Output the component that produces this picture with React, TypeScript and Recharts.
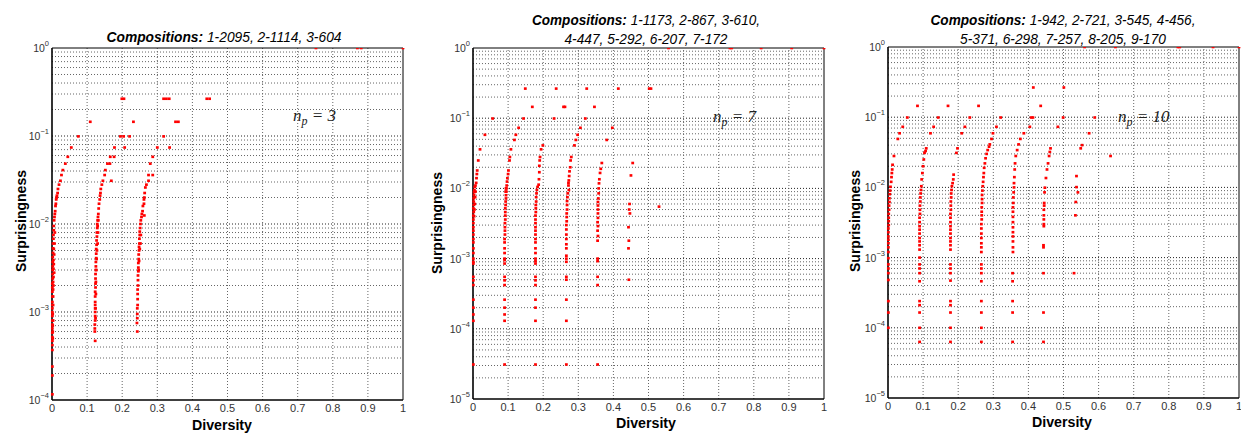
import React from 'react';
import { ScatterChart, Scatter, XAxis, YAxis, ReferenceLine } from 'recharts';

type P = [number, number];

// ---------- tick labels ----------
const xTicks = [0, 0.1, 0.2, 0.3, 0.4, 0.5, 0.6, 0.7, 0.8, 0.9, 1];
const xTickLabels = ['0', '0.1', '0.2', '0.3', '0.4', '0.5', '0.6', '0.7', '0.8', '0.9', '1'];
const yTicksP1 = [1e-4, 1e-3, 1e-2, 1e-1, 1];
const yTicksP23 = [1e-5, 1e-4, 1e-3, 1e-2, 1e-1, 1];
const yExpLabels: Record<number, string> = { 0: '0', [-1]: '−1', [-2]: '−2', [-3]: '−3', [-4]: '−4', [-5]: '−5' };

// ---------- titles ----------
const titleP1 = ['1-2095, 2-1114, 3-604'];
const titleP2 = ['1-1173, 2-867, 3-610,', '4-447, 5-292, 6-207, 7-172'];
const titleP3 = ['1-942, 2-721, 3-545, 4-456,', '5-371, 6-298, 7-257, 8-205, 9-170'];
const npLabels = ['3', '7', '10'];

// ---------- plot 1 (n_p = 3) ----------
const p1Upper: P[] = [
  [0.752, 1], [0.870, 1], [0.881, 1], [1, 1],
  [0.199, 0.265], [0.205, 0.265], [0.318, 0.265], [0.326, 0.265], [0.334, 0.265], [0.441, 0.265], [0.449, 0.265],
  [0.109, 0.145], [0.232, 0.145], [0.352, 0.145], [0.360, 0.145],
  [0.075, 0.099], [0.195, 0.099], [0.204, 0.099], [0.221, 0.099], [0.318, 0.099],
  [0.055, 0.074], [0.178, 0.074], [0.207, 0.074], [0.300, 0.074], [0.335, 0.074],
  [0.045, 0.058], [0.166, 0.058], [0.177, 0.058], [0.287, 0.058],
  [0.038, 0.0485], [0.158, 0.0485], [0.165, 0.0485], [0.280, 0.0485],
  [0.031, 0.041], [0.152, 0.041],
  [0.027, 0.036], [0.150, 0.036], [0.275, 0.036], [0.287, 0.036],
  [0.024, 0.031], [0.145, 0.031], [0.169, 0.031], [0.275, 0.031],
  [0.020, 0.028], [0.142, 0.028], [0.269, 0.028],
];
const p1Streak1: P[] = [
  [0.017, 0.025], [0.016, 0.0225], [0.014, 0.021], [0.013, 0.02], [0.012, 0.019], [0.011, 0.017],
  [0.010, 0.016], [0.009, 0.014], [0.008, 0.013], [0.007, 0.012], [0.006, 0.011], [0.005, 0.0095],
  [0.005, 0.0085], [0.004, 0.0075], [0.004, 0.0068], [0.003, 0.006], [0.003, 0.0053], [0.003, 0.0047],
  [0.002, 0.0042], [0.002, 0.0037], [0.002, 0.0033], [0.002, 0.003], [0.002, 0.0027], [0.002, 0.0024],
  [0.001, 0.0021], [0.001, 0.0019], [0.001, 0.0017], [0.001, 0.0015], [0.001, 0.0013], [0.001, 0.0012],
  [0.001, 0.0011], [0.001, 0.001], [0.001, 0.0009], [0.001, 0.0008], [0.001, 0.00072], [0.001, 0.00065],
  [0.001, 0.00058], [0.001, 0.00052], [0.001, 0.00047], [0.001, 0.00042], [0.001, 0.00037],
  [0.001, 0.00024], [0.001, 0.00019], [0.001, 0.000116],
  [0.006, 0.0045], [0.007, 0.006], [0.005, 0.0035], [0.008, 0.008], [0.004, 0.0025], [0.003, 0.0018], [0.006, 0.0028],
  [0.005, 0.0052], [0.004, 0.0039], [0.004, 0.0031], [0.003, 0.0022], [0.003, 0.0015], [0.004, 0.002],
  [0.003, 0.0012], [0.002, 0.00095], [0.003, 0.0008], [0.002, 0.0007], [0.002, 0.0006], [0.002, 0.0005],
];
const p1Streak2: P[] = [
  [0.139, 0.025], [0.138, 0.0225], [0.137, 0.021], [0.136, 0.019], [0.134, 0.017], [0.133, 0.015],
  [0.132, 0.013], [0.131, 0.012], [0.130, 0.011], [0.129, 0.01], [0.129, 0.009], [0.128, 0.008],
  [0.128, 0.0072], [0.127, 0.0065], [0.127, 0.0058], [0.126, 0.0052], [0.126, 0.0046], [0.126, 0.0041],
  [0.125, 0.0037], [0.125, 0.0033], [0.125, 0.003], [0.124, 0.0027], [0.124, 0.0024], [0.124, 0.0021],
  [0.124, 0.0019], [0.123, 0.0017], [0.123, 0.0015], [0.123, 0.0013], [0.123, 0.0012], [0.123, 0.0011],
  [0.123, 0.001], [0.123, 0.0009], [0.123, 0.0008], [0.122, 0.00072], [0.122, 0.00065], [0.122, 0.0006],
  [0.123, 0.00047], [0.130, 0.006], [0.131, 0.008], [0.127, 0.004], [0.126, 0.003], [0.128, 0.005],
  [0.125, 0.0022], [0.125, 0.0016], [0.124, 0.0011], [0.124, 0.00085], [0.130, 0.0095], [0.132, 0.011],
];
const p1Streak3: P[] = [
  [0.266, 0.026], [0.264, 0.0225], [0.263, 0.02], [0.262, 0.019], [0.262, 0.017], [0.259, 0.016],
  [0.258, 0.014], [0.256, 0.013], [0.255, 0.012], [0.263, 0.0125], [0.253, 0.011], [0.252, 0.01],
  [0.251, 0.009], [0.250, 0.0082], [0.250, 0.0075], [0.249, 0.0068], [0.249, 0.006], [0.248, 0.0055],
  [0.248, 0.005], [0.247, 0.0045], [0.247, 0.004], [0.246, 0.0036], [0.246, 0.0032], [0.246, 0.0029],
  [0.245, 0.0026], [0.245, 0.0023], [0.245, 0.002], [0.244, 0.0018], [0.244, 0.0016], [0.244, 0.0014],
  [0.244, 0.0012], [0.243, 0.0011], [0.243, 0.00095], [0.243, 0.00085], [0.242, 0.00075], [0.243, 0.0006],
  [0.252, 0.006], [0.253, 0.0075], [0.250, 0.0052], [0.248, 0.0038], [0.247, 0.003],
];

// ---------- plot 2 (n_p = 7) ----------
const p2Upper: P[] = [
  [0.557, 1], [0.732, 1], [0.737, 1], [0.821, 1], [0.908, 1], [1, 1],
  [0.149, 0.264], [0.237, 0.264], [0.324, 0.264], [0.414, 0.264], [0.502, 0.264], [0.507, 0.264],
  [0.169, 0.145], [0.258, 0.145], [0.262, 0.145], [0.346, 0.145],
  [0.056, 0.099], [0.144, 0.099], [0.231, 0.099], [0.320, 0.099],
  [0.130, 0.073], [0.306, 0.073], [0.397, 0.073],
  [0.034, 0.058], [0.122, 0.058], [0.298, 0.058],
  [0.118, 0.049], [0.293, 0.049], [0.381, 0.049],
  [0.199, 0.041], [0.289, 0.041],
  [0.020, 0.036], [0.108, 0.036], [0.194, 0.036],
  [0.105, 0.028], [0.191, 0.028], [0.280, 0.028],
  [0.015, 0.025], [0.104, 0.025], [0.278, 0.025], [0.190, 0.025],
  [0.367, 0.023], [0.455, 0.023],
  [0.530, 0.0055],
];
const p2StreakA: P[] = [
  [0.012, 0.018], [0.011, 0.016], [0.010, 0.014], [0.009, 0.012], [0.007, 0.011], [0.005, 0.0105],
  [0.004, 0.0095], [0.003, 0.0088], [0.003, 0.008], [0.002, 0.0072], [0.002, 0.0065], [0.002, 0.0058],
  [0.001, 0.0052], [0.002, 0.0046], [0.001, 0.0041], [0.001, 0.0036], [0.001, 0.0032], [0.001, 0.0028],
  [0.001, 0.0025], [0.001, 0.0022], [0.001, 0.0019], [0.001, 0.0017], [0.001, 0.0014], [0.001, 0.0012],
  [0.001, 0.001], [0.001, 0.0009], [0.001, 0.00085], [0.001, 0.00055], [0.001, 0.00049], [0.001, 0.00042],
  [0.001, 0.00026], [0.001, 0.0002], [0.001, 0.00016], [0.001, 0.00013], [0.001, 0.000031],
  [0.006, 0.0075], [0.007, 0.009], [0.005, 0.006], [0.004, 0.005], [0.003, 0.004],
];
const p2StreakB: P[] = [
  [0.101, 0.018], [0.100, 0.016], [0.098, 0.014], [0.097, 0.0125], [0.096, 0.011], [0.095, 0.01],
  [0.095, 0.009], [0.094, 0.008], [0.094, 0.0072], [0.093, 0.0065], [0.093, 0.0058], [0.092, 0.0052],
  [0.092, 0.0046], [0.092, 0.0041], [0.092, 0.0036], [0.091, 0.0032], [0.091, 0.0028], [0.091, 0.0025],
  [0.091, 0.0022], [0.090, 0.0019], [0.090, 0.0017], [0.090, 0.0014], [0.090, 0.0012], [0.090, 0.001],
  [0.090, 0.00095], [0.090, 0.00085], [0.090, 0.00055], [0.090, 0.00049], [0.090, 0.00042],
  [0.090, 0.00026], [0.090, 0.0002], [0.090, 0.00016], [0.090, 0.00013], [0.090, 0.000031],
  [0.093, 0.009], [0.094, 0.01],
];
const p2StreakC: P[] = [
  [0.189, 0.021], [0.189, 0.017], [0.188, 0.0135], [0.187, 0.0113], [0.184, 0.0105], [0.182, 0.0095],
  [0.181, 0.0085], [0.180, 0.0075], [0.180, 0.0065], [0.179, 0.0058], [0.179, 0.0052], [0.179, 0.0046],
  [0.178, 0.0041], [0.178, 0.0036], [0.178, 0.0032], [0.178, 0.0028], [0.178, 0.0025], [0.178, 0.0022],
  [0.178, 0.0019], [0.178, 0.0017], [0.178, 0.0014], [0.178, 0.0012], [0.178, 0.001], [0.178, 0.00092],
  [0.178, 0.00085], [0.178, 0.00055], [0.178, 0.00049], [0.178, 0.00042], [0.178, 0.00026],
  [0.178, 0.0002], [0.178, 0.00013], [0.178, 0.000031],
];
const p2StreakD: P[] = [
  [0.277, 0.02], [0.275, 0.0175], [0.274, 0.015], [0.273, 0.013], [0.272, 0.012], [0.272, 0.011],
  [0.273, 0.0095], [0.270, 0.0085], [0.269, 0.0075], [0.268, 0.0066], [0.268, 0.0058], [0.268, 0.005],
  [0.267, 0.0044], [0.267, 0.0039], [0.267, 0.0034], [0.266, 0.003], [0.266, 0.0026], [0.266, 0.0022],
  [0.266, 0.0019], [0.266, 0.0016], [0.266, 0.0014], [0.266, 0.0011], [0.266, 0.001], [0.266, 0.0009],
  [0.266, 0.00055], [0.266, 0.0005], [0.266, 0.00026], [0.266, 0.00013], [0.266, 0.000031],
];
const p2StreakE: P[] = [
  [0.364, 0.019], [0.362, 0.0166], [0.360, 0.0135], [0.359, 0.0118], [0.358, 0.01], [0.358, 0.0085],
  [0.357, 0.0072], [0.356, 0.0064], [0.356, 0.0057], [0.356, 0.005], [0.356, 0.0044], [0.356, 0.0038],
  [0.355, 0.0033], [0.356, 0.0029], [0.355, 0.0025], [0.356, 0.0021], [0.355, 0.0018], [0.355, 0.001],
  [0.355, 0.00092], [0.355, 0.00055], [0.355, 0.00042], [0.355, 0.000031],
];
const p2StreakF: P[] = [
  [0.450, 0.0153], [0.446, 0.006], [0.445, 0.005], [0.447, 0.0044], [0.443, 0.0028], [0.444, 0.0018],
  [0.443, 0.0014], [0.444, 0.0005],
];

// ---------- plot 3 (n_p = 10) ----------
const p3Upper: P[] = [
  [0.560, 1], [0.648, 1], [0.826, 1], [0.831, 1], [0.926, 1], [1, 1],
  [0.414, 0.265], [0.501, 0.265],
  [0.084, 0.145], [0.171, 0.145], [0.258, 0.145], [0.435, 0.145],
  [0.055, 0.099], [0.143, 0.099], [0.233, 0.099], [0.321, 0.099], [0.408, 0.099], [0.413, 0.099], [0.499, 0.099], [0.589, 0.099],
  [0.042, 0.073], [0.130, 0.073], [0.219, 0.073], [0.309, 0.073], [0.404, 0.073], [0.484, 0.073],
  [0.033, 0.059], [0.121, 0.059], [0.210, 0.059], [0.387, 0.059], [0.573, 0.059],
  [0.028, 0.049],
  [0.553, 0.04], [0.549, 0.036],
  [0.017, 0.028], [0.634, 0.028],
];
const p3Streak1: P[] = [
  [0.013, 0.021], [0.012, 0.018], [0.011, 0.016], [0.010, 0.014], [0.009, 0.012], [0.007, 0.0102],
  [0.006, 0.009], [0.005, 0.008], [0.004, 0.007], [0.004, 0.0062], [0.003, 0.0055], [0.003, 0.0048],
  [0.002, 0.0042], [0.002, 0.0037], [0.002, 0.0033], [0.002, 0.0029], [0.001, 0.0026], [0.001, 0.0023],
  [0.001, 0.002], [0.001, 0.0018], [0.001, 0.0016], [0.001, 0.0014], [0.001, 0.0012], [0.001, 0.00098],
  [0.001, 0.0008], [0.001, 0.0007], [0.001, 0.0006], [0.001, 0.00048], [0.001, 0.00024], [0.001, 0.000165],
  [0.001, 0.0001],
];
const p3Streak2: P[] = [
  [0.109, 0.036], [0.107, 0.033], [0.104, 0.031], [0.102, 0.025], [0.100, 0.02], [0.098, 0.016],
  [0.096, 0.013], [0.095, 0.0104], [0.094, 0.0092], [0.093, 0.0082], [0.092, 0.0072], [0.092, 0.0063],
  [0.091, 0.0055], [0.091, 0.0048], [0.091, 0.0042], [0.090, 0.0037], [0.090, 0.0032], [0.090, 0.0028],
  [0.090, 0.0025], [0.090, 0.0022], [0.090, 0.0019], [0.090, 0.0017], [0.090, 0.0015], [0.090, 0.0013],
  [0.090, 0.001], [0.090, 0.0008], [0.090, 0.0007], [0.090, 0.0006], [0.090, 0.00046], [0.090, 0.00024],
  [0.090, 0.00021], [0.090, 0.000165], [0.090, 0.0001], [0.090, 0.000063],
];
const p3Streak3: P[] = [
  [0.198, 0.036], [0.195, 0.031],
  [0.187, 0.0152], [0.186, 0.013], [0.184, 0.0115], [0.182, 0.0104], [0.181, 0.0092], [0.180, 0.0082],
  [0.180, 0.0072], [0.179, 0.0063], [0.179, 0.0055], [0.179, 0.0048], [0.178, 0.0042], [0.178, 0.0037],
  [0.178, 0.0032], [0.178, 0.0028], [0.178, 0.0025], [0.178, 0.0022], [0.178, 0.0019], [0.178, 0.0017],
  [0.178, 0.0015], [0.178, 0.0013], [0.178, 0.0008], [0.178, 0.0007], [0.178, 0.0006], [0.178, 0.00047],
  [0.178, 0.00024], [0.178, 0.00021], [0.178, 0.000165], [0.178, 0.0001], [0.178, 0.000063],
];
const p3Streak4: P[] = [
  [0.299, 0.059], [0.295, 0.049], [0.290, 0.041], [0.288, 0.038], [0.284, 0.034], [0.281, 0.03],
  [0.278, 0.026], [0.276, 0.022], [0.274, 0.019], [0.273, 0.016], [0.272, 0.014], [0.271, 0.012],
  [0.270, 0.0104], [0.269, 0.009], [0.268, 0.0078], [0.268, 0.0068], [0.268, 0.006], [0.267, 0.0052],
  [0.267, 0.0045], [0.267, 0.004], [0.267, 0.0035], [0.266, 0.003], [0.266, 0.0026], [0.266, 0.0022],
  [0.266, 0.0019], [0.266, 0.0016], [0.266, 0.0014], [0.266, 0.0012], [0.266, 0.0008], [0.266, 0.0007],
  [0.266, 0.0006], [0.266, 0.00046], [0.266, 0.00024], [0.266, 0.000165], [0.266, 0.0001], [0.266, 0.000063],
];
const p3Streak5: P[] = [
  [0.377, 0.049], [0.372, 0.041], [0.368, 0.034], [0.364, 0.028], [0.362, 0.022], [0.361, 0.018],
  [0.360, 0.014], [0.359, 0.0115], [0.359, 0.01], [0.358, 0.0085], [0.357, 0.0072], [0.357, 0.006],
  [0.356, 0.0052], [0.356, 0.0045], [0.356, 0.0038], [0.356, 0.0032], [0.356, 0.0027], [0.356, 0.0023],
  [0.356, 0.002], [0.356, 0.0017], [0.356, 0.0014], [0.356, 0.0012], [0.355, 0.0006], [0.355, 0.00046],
  [0.355, 0.00024], [0.355, 0.000165], [0.355, 0.000063],
];
const p3Streak6: P[] = [
  [0.463, 0.036], [0.461, 0.032], [0.459, 0.028], [0.456, 0.022], [0.453, 0.018], [0.450, 0.0136],
  [0.447, 0.0099], [0.446, 0.0085], [0.445, 0.006], [0.445, 0.0055], [0.444, 0.0048], [0.444, 0.004],
  [0.444, 0.0035], [0.444, 0.003], [0.444, 0.0028], [0.443, 0.0015], [0.443, 0.0014], [0.443, 0.0006],
  [0.443, 0.000165], [0.443, 0.000063],
];
const p3Streak7: P[] = [
  [0.537, 0.0145], [0.537, 0.0101], [0.541, 0.0085], [0.535, 0.0062], [0.534, 0.004], [0.530, 0.0006],
];

const toPts = (...lists: P[][]) => lists.flat().map(([x, y]) => ({ x, y }));

const data1 = toPts(p1Upper, p1Streak1, p1Streak2, p1Streak3);
const data2 = toPts(p2Upper, p2StreakA, p2StreakB, p2StreakC, p2StreakD, p2StreakE, p2StreakF);
const data3 = toPts(p3Upper, p3Streak1, p3Streak2, p3Streak3, p3Streak4, p3Streak5, p3Streak6, p3Streak7);

// ---------- styling helpers ----------
const SANS = '"Liberation Sans", Arial, Helvetica, sans-serif';
const SERIF = '"Liberation Serif", "Times New Roman", serif';
const xGrid = xTicks.slice(1, -1);

function logGrid(ticks: number[]) {
  const out: { v: number; major: boolean }[] = [];
  for (let i = 0; i < ticks.length - 1; i++) {
    const base = ticks[i];
    if (i > 0) out.push({ v: base, major: true });
    for (let k = 2; k <= 9; k++) out.push({ v: base * k, major: false });
  }
  return out;
}

const Sq = (p: any) => {
  if (p.cx == null || p.cy == null) return null;
  return <rect x={p.cx - 1.4} y={p.cy - 1.3} width={2.8} height={2.6} fill="#ff0000" />;
};

const XTick = (p: any) => {
  const i = xTicks.findIndex((t) => Math.abs(t - p.payload.value) < 1e-9);
  return (
    <text x={p.x} y={p.y} dy={8} textAnchor="middle" fontFamily={SANS} fontSize={11} fill="#333">
      {xTickLabels[i] ?? String(p.payload.value)}
    </text>
  );
};

const YTick = (p: any) => {
  const e = Math.round(Math.log10(p.payload.value));
  return (
    <text x={p.x} y={p.y + 4} textAnchor="end" fontFamily={SANS} fontSize={10.5} fill="#333">
      10
      <tspan dy={-6} fontSize={7.5}>{yExpLabels[e]}</tspan>
    </text>
  );
};

type PanelProps = {
  left: number; width: number; ml: number; mr: number; mt: number; mb: number;
  yTicks: number[]; data: { x: number; y: number }[];
};

function Panel({ left, width, ml, mr, mt, mb, yTicks, data }: PanelProps) {
  const grid = logGrid(yTicks);
  return (
    <div style={{ position: 'absolute', left, top: 0 }}>
      <ScatterChart width={width} height={434} margin={{ top: mt, right: mr, bottom: mb, left: ml }}>
        {grid.map((g) => (
          <ReferenceLine key={'gy' + g.v} y={g.v} stroke={g.major ? '#222' : '#666'} strokeWidth={1} strokeDasharray="1 2" />
        ))}
        {xGrid.map((v) => (
          <ReferenceLine key={'gx' + v} x={v} stroke="#666" strokeWidth={1} strokeDasharray="1 2" />
        ))}
        <ReferenceLine y={1} stroke="#000" strokeWidth={1} />
        <ReferenceLine x={1} stroke="#000" strokeWidth={1} />
        <XAxis
          type="number" dataKey="x" domain={[0, 1]} ticks={xTicks} interval={0}
          tick={<XTick />} tickLine={false} tickSize={0} tickMargin={4} height={20}
          axisLine={{ stroke: '#000', strokeWidth: 1.6 }}
        />
        <YAxis
          type="number" dataKey="y" scale="log" domain={[yTicks[0], 1]} ticks={yTicks} interval={0}
          allowDataOverflow tick={<YTick />} tickLine={false} tickSize={0} tickMargin={3} width={40}
          axisLine={{ stroke: '#000', strokeWidth: 1.6 }}
        />
        <Scatter data={data} shape={Sq} isAnimationActive={false} />
      </ScatterChart>
    </div>
  );
}

function Title({ cx, baselines, lines, lengths }: { cx: number; baselines: number[]; lines: string[]; lengths: number[] }) {
  return (
    <>
      {lines.map((ln, i) => (
        <text key={i} x={cx} y={baselines[i]} textAnchor="middle" fontFamily={SANS} fontSize={14} fontStyle="italic"
          textLength={lengths[i]} lengthAdjust="spacingAndGlyphs">
          {i === 0 ? <tspan fontWeight="bold">Compositions: </tspan> : null}
          {ln}
        </text>
      ))}
    </>
  );
}

function Np({ x, y, val }: { x: number; y: number; val: string }) {
  return (
    <text x={x} y={y} fontFamily={SERIF} fontSize={17} fontStyle="italic" fill="#222">
      n
      <tspan dy={4} fontSize={12}>p</tspan>
      <tspan dy={-4}>{' = ' + val}</tspan>
    </text>
  );
}

export default function App() {
  return (
    <div style={{ position: 'absolute', left: 0, top: 0, width: 1241, height: 434, background: '#fff', overflow: 'hidden' }}>
      <Panel left={0} width={420} ml={12} mr={17} mt={48} mb={14} yTicks={yTicksP1} data={data1} />
      <Panel left={420} width={410} ml={13} mr={6} mt={48} mb={15} yTicks={yTicksP23} data={data2} />
      <Panel left={830} width={411} ml={18} mr={2} mt={47} mb={16} yTicks={yTicksP23} data={data3} />
      <svg width={1241} height={434} style={{ position: 'absolute', left: 0, top: 0, pointerEvents: 'none' }}>
        <Title cx={224} baselines={[42]} lines={titleP1} lengths={[235]} />
        <Title cx={646} baselines={[25, 44]} lines={titleP2} lengths={[228, 163]} />
        <Title cx={1063} baselines={[25, 44]} lines={titleP3} lengths={[265, 206]} />

        {[{ cx: 222, y: 430 }, { cx: 646, y: 428 }, { cx: 1062, y: 427 }].map((d, i) => (
          <text key={'xl' + i} x={d.cx} y={d.y} textAnchor="middle" fontFamily={SANS} fontWeight="bold" fontSize={14}
            textLength={60} lengthAdjust="spacingAndGlyphs">Diversity</text>
        ))}
        {[{ x: 26, cy: 221 }, { x: 442, cy: 223 }, { x: 860, cy: 221 }].map((d, i) => (
          <text key={'yl' + i} x={d.x} y={d.cy} transform={`rotate(-90 ${d.x} ${d.cy})`} textAnchor="middle"
            fontFamily={SANS} fontWeight="bold" fontSize={14} textLength={102} lengthAdjust="spacingAndGlyphs">Surprisingness</text>
        ))}

        <Np x={293} y={121} val={npLabels[0]} />
        <Np x={713} y={122} val={npLabels[1]} />
        <Np x={1118} y={122} val={npLabels[2]} />
      </svg>
    </div>
  );
}
